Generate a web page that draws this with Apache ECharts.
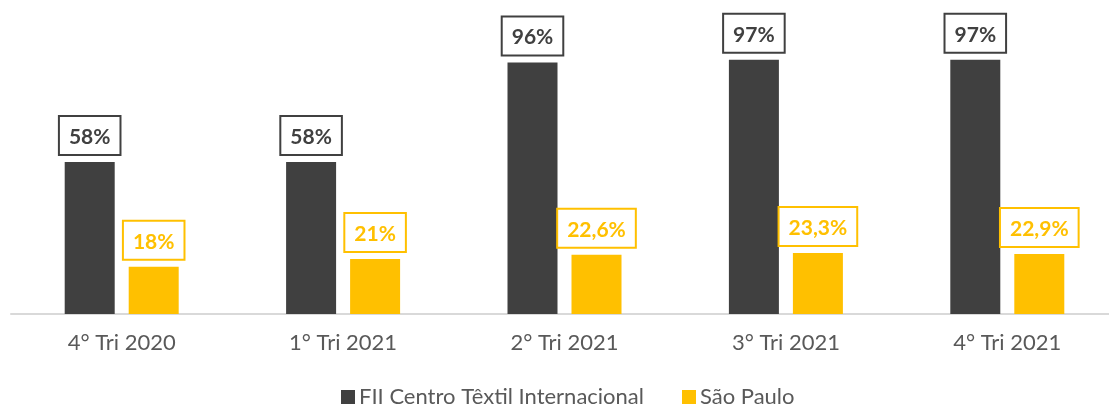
<!DOCTYPE html>
<html>
<head>
<meta charset="utf-8">
<script src="https://cdn.jsdelivr.net/npm/echarts@6/dist/echarts.min.js"></script>
<style>
html,body{margin:0;padding:0;background:#fff;overflow:hidden;}
#chart{width:1118px;height:407px;}
</style>
</head>
<body>
<div id="chart"></div>
<script>
const categories = ['4° Tri 2020', '1° Tri 2021', '2° Tri 2021', '3° Tri 2021', '4° Tri 2021'];
const seriesNames = ['FII Centro Têxtil Internacional', 'São Paulo'];
const fiiValues = [58, 58, 96, 97, 97];
const spValues = [18, 21, 22.6, 23.3, 22.9];

const DARK = '#404040';
const YELLOW = '#FFC000';
const FONT = 'Lato, "Open Sans", sans-serif';

function fmt(p) { return String(p.value).replace('.', ',') + '%'; }

function labelFor(color) {
  return {
    show: true,
    position: 'top',
    distance: 8,
    formatter: fmt,
    color: color,
    fontFamily: FONT,
    fontWeight: 'bold',
    fontSize: 21,
    lineHeight: 22,
    backgroundColor: '#fff',
    borderColor: color,
    borderWidth: 2,
    padding: [9, 9, 6, 9]
  };
}

const chart = echarts.init(document.getElementById('chart'));
chart.setOption({
  animation: false,
  grid: { left: 11, right: 0, top: 52, bottom: 93, containLabel: false },
  legend: {
    left: 336,
    top: 381,
    itemWidth: 14,
    itemHeight: 14,
    itemGap: 38,
    icon: 'rect',
    textStyle: { color: '#595959', fontSize: 22, lineHeight: 22, fontFamily: FONT, padding: [0, 0, 0, -1] },
    data: seriesNames
  },
  xAxis: {
    type: 'category',
    data: categories,
    axisLine: { show: true, lineStyle: { color: '#d9d9d9', width: 2 } },
    axisTick: { show: false },
    axisLabel: { color: '#595959', fontSize: 22, fontFamily: FONT, margin: 18 }
  },
  yAxis: {
    type: 'value',
    min: 0,
    max: 100,
    show: false,
    splitLine: { show: false }
  },
  series: [
    {
      name: seriesNames[0],
      type: 'bar',
      data: fiiValues,
      barWidth: 50,
      barGap: '28%',
      itemStyle: { color: DARK },
      label: labelFor(DARK)
    },
    {
      name: seriesNames[1],
      type: 'bar',
      data: spValues,
      barWidth: 50,
      itemStyle: { color: YELLOW },
      label: labelFor(YELLOW)
    }
  ]
});
</script>
</body>
</html>
